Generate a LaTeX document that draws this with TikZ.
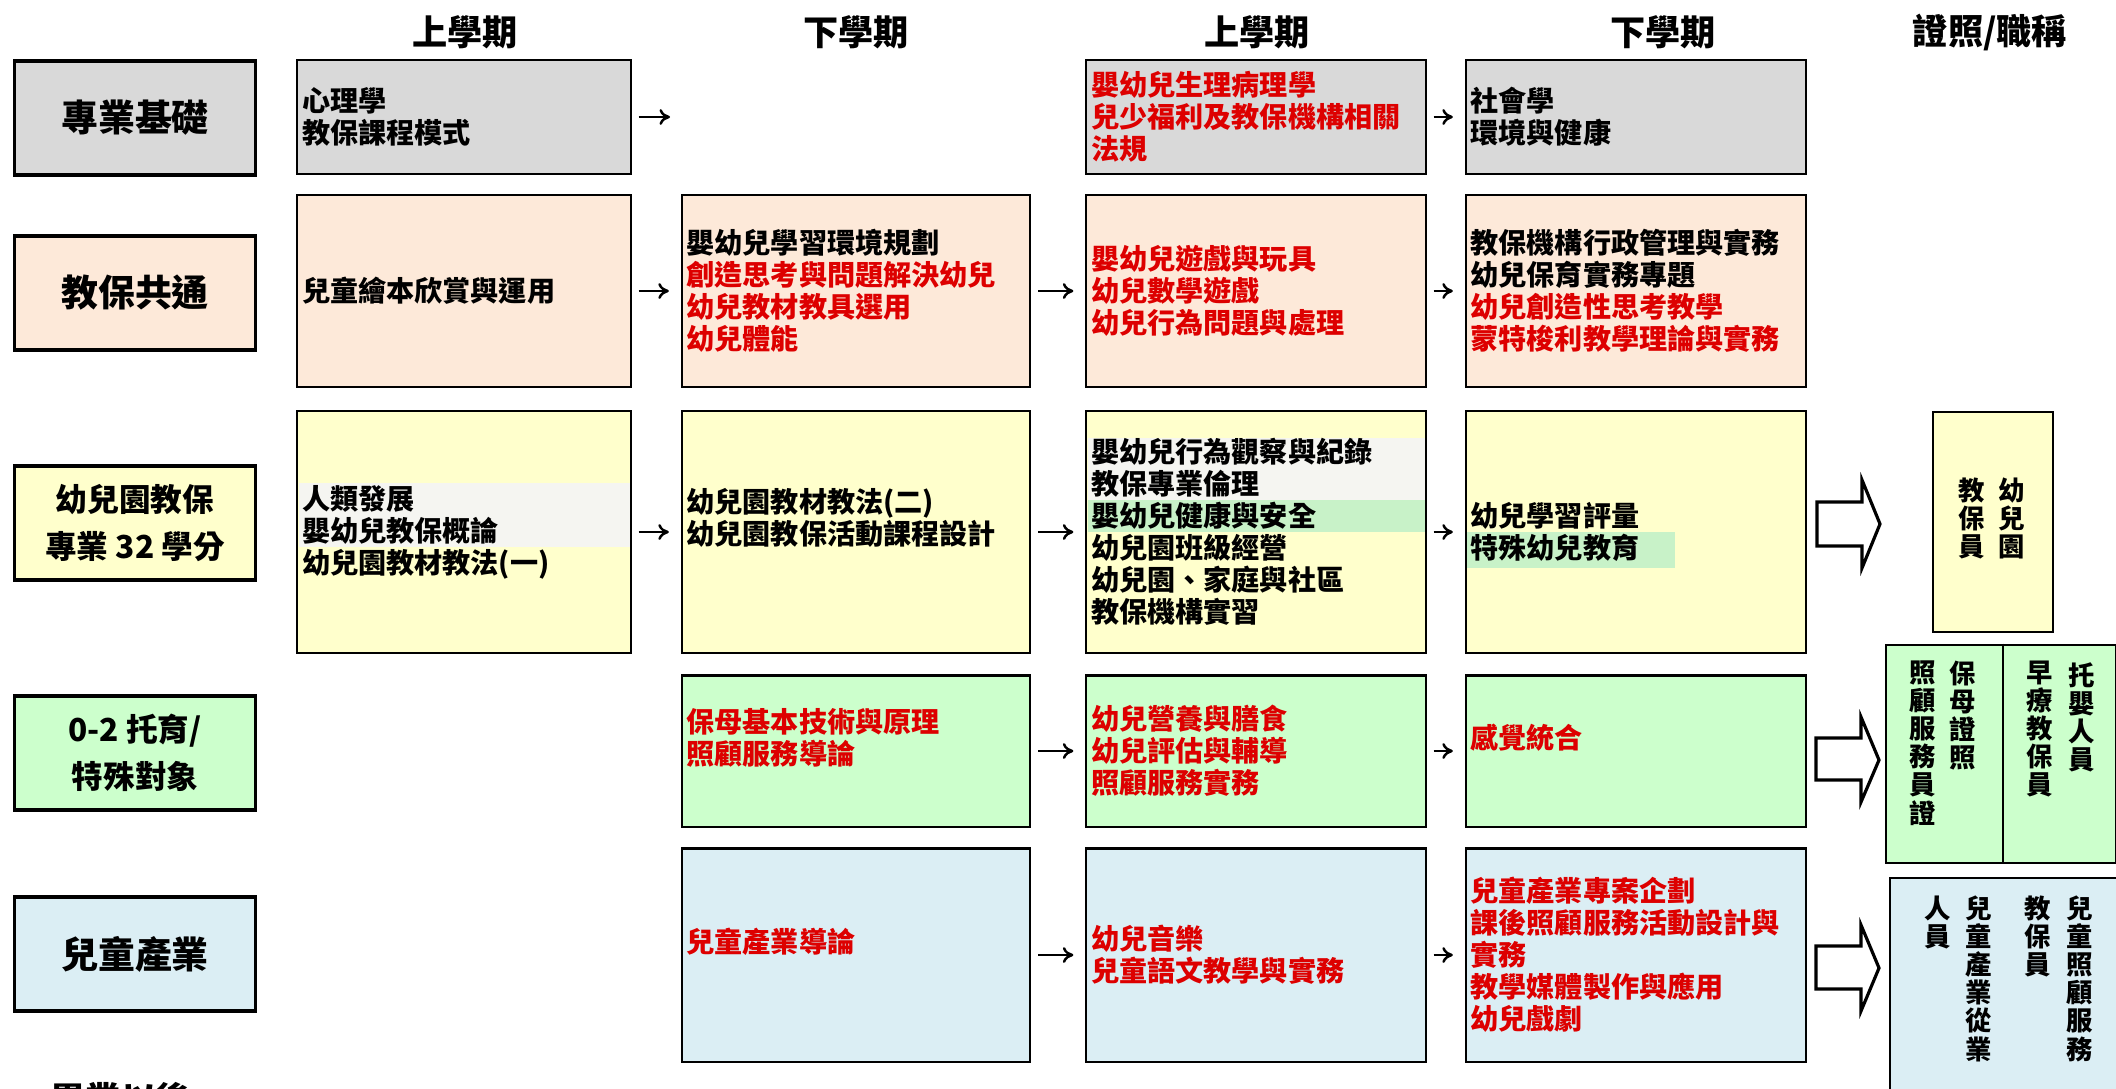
\documentclass[tikz,border=0pt]{standalone}
\usepackage{fontspec}
\setmainfont{Noto Sans CJK TC}
\usetikzlibrary{arrows.meta}
\definecolor{jcgray}{HTML}{D9D9D9}
\definecolor{jbpeach}{HTML}{FDE9D9}
\definecolor{ybyellow}{HTML}{FFFFCC}
\definecolor{tymint}{HTML}{CCFFCC}
\definecolor{etsky}{HTML}{DBEEF4}
\definecolor{bandwhite}{HTML}{F5F5F1}
\definecolor{bandmint}{HTML}{C8F2C8}
\definecolor{redcourse}{HTML}{DD0000}

\begin{document}
\begin{tikzpicture}[x=0.01cm, y=-0.01cm,
            hd/.style={font=\fontsize{10}{12}\selectfont\bfseries},
            lab/.style={draw, line width=1pt, minimum width=2.41cm, minimum height=1.14cm, align=center, font=\fontsize{10.5}{13}\selectfont\bfseries},
            crs/.style={draw, line width=0.6pt, inner sep=0pt},
            txt/.style={anchor=west, align=left, inner sep=0pt, font=\fontsize{8}{9.1}\selectfont\bfseries},
            vt/.style={anchor=north, align=center, inner sep=0pt, font=\fontsize{7.5}{8}\selectfont\bfseries},
            go/.style={-{To[length=3pt,width=4.5pt]}, line width=0.7pt, shorten <=0.07cm, shorten >=0.12cm},
            blk/.style={draw, line width=0.9pt, fill=white}]
                \fill[white] (0,0) rectangle (2116,1088);
                \useasboundingbox (0,0) rectangle (2116,1088);

                \node[hd] (h1) at (465,32) {上學期};
                \node[hd] (h2) at (856,32) {下學期};
                \node[hd] (h3) at (1257,32) {上學期};
                \node[hd] (h4) at (1663,32) {下學期};
                \node[hd] (h5) at (1990,32) {證照/職稱};

                \node[lab, fill=jcgray] (l1) at (135,118) {專業基礎};
                \node[lab, fill=jbpeach] (l2) at (135,293) {教保共通};
                \node[lab, fill=ybyellow, font=\fontsize{9}{13.4}\selectfont\bfseries] (l3) at (135,523) {幼兒園教保\\專業 32 學分};
                \node[lab, fill=tymint, font=\fontsize{9}{13.4}\selectfont\bfseries] (l4) at (135,753) {0-2 托育/\\特殊對象};
                \node[lab, fill=etsky] (l5) at (135,954) {兒童產業};

                \node[crs, fill=jcgray, minimum width=3.33cm, minimum height=1.14cm] (r1c1) at (464,117) {};
                \coordinate (r1c2) at (682,117);
                \node[crs, fill=jcgray, minimum width=3.39cm, minimum height=1.14cm] (r1c3) at (1256,117) {};
                \node[crs, fill=jcgray, minimum width=3.40cm, minimum height=1.14cm] (r1c4) at (1636,117) {};

                \node[crs, fill=jbpeach, minimum width=3.33cm, minimum height=1.91cm] (r2c1) at (464,291) {};
                \node[crs, fill=jbpeach, minimum width=3.48cm, minimum height=1.91cm] (r2c2) at (856,291) {};
                \node[crs, fill=jbpeach, minimum width=3.39cm, minimum height=1.91cm] (r2c3) at (1256,291) {};
                \node[crs, fill=jbpeach, minimum width=3.40cm, minimum height=1.91cm] (r2c4) at (1636,291) {};

                \node[crs, fill=ybyellow, minimum width=3.33cm, minimum height=2.42cm] (r3c1) at (464,532) {};
                \node[crs, fill=ybyellow, minimum width=3.48cm, minimum height=2.42cm] (r3c2) at (856,532) {};
                \node[crs, fill=ybyellow, minimum width=3.39cm, minimum height=2.42cm] (r3c3) at (1256,532) {};
                \node[crs, fill=ybyellow, minimum width=3.40cm, minimum height=2.42cm] (r3c4) at (1636,532) {};

                \node[crs, fill=tymint, minimum width=3.48cm, minimum height=1.51cm] (r4c2) at (856,751) {};
                \node[crs, fill=tymint, minimum width=3.39cm, minimum height=1.51cm] (r4c3) at (1256,751) {};
                \node[crs, fill=tymint, minimum width=3.40cm, minimum height=1.51cm] (r4c4) at (1636,751) {};

                \node[crs, fill=etsky, minimum width=3.48cm, minimum height=2.13cm] (r5c2) at (856,955) {};
                \node[crs, fill=etsky, minimum width=3.39cm, minimum height=2.13cm] (r5c3) at (1256,955) {};
                \node[crs, fill=etsky, minimum width=3.40cm, minimum height=2.13cm] (r5c4) at (1636,955) {};

                \fill[bandwhite] (299,483) rectangle (630,547);
                \fill[bandwhite] (1088,438) rectangle (1425,500);
                \fill[bandmint] (1088,500) rectangle (1425,532);
                \fill[bandmint] (1467,532) rectangle (1675,568);

                \node[txt] (t1c1) at ([xshift=0.05cm]r1c1.west) {心理學\\教保課程模式};
                \node[txt, text=redcourse] (t1c3) at ([xshift=0.05cm]r1c3.west) {嬰幼兒生理病理學\\兒少福利及教保機構相關\\法規};
                \node[txt] (t1c4) at ([xshift=0.05cm]r1c4.west) {社會學\\環境與健康};

                \node[txt] (t2c1) at ([xshift=0.05cm]r2c1.west) {兒童繪本欣賞與運用};
                \node[txt] (t2c2) at ([xshift=0.05cm]r2c2.west) {嬰幼兒學習環境規劃\\\textcolor{redcourse}{創造思考與問題解決幼兒}\\\textcolor{redcourse}{幼兒教材教具選用}\\\textcolor{redcourse}{幼兒體能}};
                \node[txt, text=redcourse] (t2c3) at ([xshift=0.05cm]r2c3.west) {嬰幼兒遊戲與玩具\\幼兒數學遊戲\\幼兒行為問題與處理};
                \node[txt] (t2c4) at ([xshift=0.05cm]r2c4.west) {教保機構行政管理與實務\\幼兒保育實務專題\\\textcolor{redcourse}{幼兒創造性思考教學}\\\textcolor{redcourse}{蒙特梭利教學理論與實務}};

                \node[txt] (t3c1) at ([xshift=0.05cm]r3c1.west) {人類發展\\嬰幼兒教保概論\\幼兒園教材教法(一)};
                \node[txt] (t3c2) at ([xshift=0.05cm, yshift=0.14cm]r3c2.west) {幼兒園教材教法(二)\\幼兒園教保活動課程設計};
                \node[txt] (t3c3) at ([xshift=0.05cm]r3c3.west) {嬰幼兒行為觀察與紀錄\\教保專業倫理\\嬰幼兒健康與安全\\幼兒園班級經營\\幼兒園、家庭與社區\\教保機構實習};
                \node[txt] (t3c4) at ([xshift=0.05cm]r3c4.west) {幼兒學習評量\\特殊幼兒教育};

                \node[txt, text=redcourse] (t4c2) at ([xshift=0.05cm, yshift=0.13cm]r4c2.west) {保母基本技術與原理\\照顧服務導論};
                \node[txt, text=redcourse] (t4c3) at ([xshift=0.05cm]r4c3.west) {幼兒營養與膳食\\幼兒評估與輔導\\照顧服務實務};
                \node[txt, text=redcourse] (t4c4) at ([xshift=0.05cm, yshift=0.13cm]r4c4.west) {感覺統合};

                \node[txt, text=redcourse] (t5c2) at ([xshift=0.05cm, yshift=0.13cm]r5c2.west) {兒童產業導論};
                \node[txt, text=redcourse] (t5c3) at ([xshift=0.05cm]r5c3.west) {幼兒音樂\\兒童語文教學與實務};
                \node[txt, text=redcourse] (t5c4) at ([xshift=0.05cm]r5c4.west) {兒童產業專案企劃\\課後照顧服務活動設計與\\實務\\教學媒體製作與應用\\幼兒戲劇};

                \draw[go] (r1c1) -- (r1c2);
                \draw[go] (r1c3) -- (r1c4);
                \draw[go] (r2c1) -- (r2c2);
                \draw[go] (r2c2) -- (r2c3);
                \draw[go] (r2c3) -- (r2c4);
                \draw[go] (r3c1) -- (r3c2);
                \draw[go] (r3c2) -- (r3c3);
                \draw[go] (r3c3) -- (r3c4);
                \draw[go] (r4c2) -- (r4c3);
                \draw[go] (r4c3) -- (r4c4);
                \draw[go] (r5c2) -- (r5c3);
                \draw[go] (r5c3) -- (r5c4);

                \draw[blk] (1817,502) -- (1862,502) -- (1862,480) -- (1880,524) -- (1862,568) -- (1862,546) -- (1817,546) -- cycle;
                \draw[blk] (1816,738) -- (1861,738) -- (1861,717) -- (1879,760) -- (1861,802) -- (1861,780) -- (1816,780) -- cycle;
                \draw[blk] (1816,946) -- (1861,946) -- (1861,925) -- (1879,968) -- (1861,1011) -- (1861,989) -- (1816,989) -- cycle;

                \node[crs, line width=0.8pt, fill=ybyellow, minimum width=1.2cm, minimum height=2.2cm] (k1) at (1993,522) {};
                \node[crs, line width=0.8pt, fill=tymint, minimum width=2.3cm, minimum height=2.18cm] (k2) at (2001,754) {};
                \coordinate (kdiv) at (2003,0);
                \draw[line width=0.8pt] (k2.north -| kdiv) -- (k2.south -| kdiv);
                \node[crs, line width=0.8pt, fill=etsky, minimum width=2.3cm, minimum height=2.3cm] (k3) at (2005,993) {};

                \node[vt] (v1a) at (2012,477) {幼\\兒\\園};
                \node[vt] (v1b) at (1972,477) {教\\保\\員};
                \node[vt] (v2a) at (1963,660) {保\\母\\證\\照};
                \node[vt] (v2b) at (1923,660) {照\\顧\\服\\務\\員\\證};
                \node[vt] (v2c) at (2082,662) {托\\嬰\\人\\員};
                \node[vt] (v2d) at (2040,660) {早\\療\\教\\保\\員};
                \node[vt] (v3a) at (2080,895) {兒\\童\\照\\顧\\服\\務};
                \node[vt] (v3b) at (2038,895) {教\\保\\員};
                \node[vt] (v3c) at (1979,895) {兒\\童\\產\\業\\從\\業};
                \node[vt] (v3d) at (1938,895) {人\\員};

                \node[hd, anchor=north west, inner sep=0pt] (after) at (50,1082) {畢業以後};
            \end{tikzpicture}
\end{document}
